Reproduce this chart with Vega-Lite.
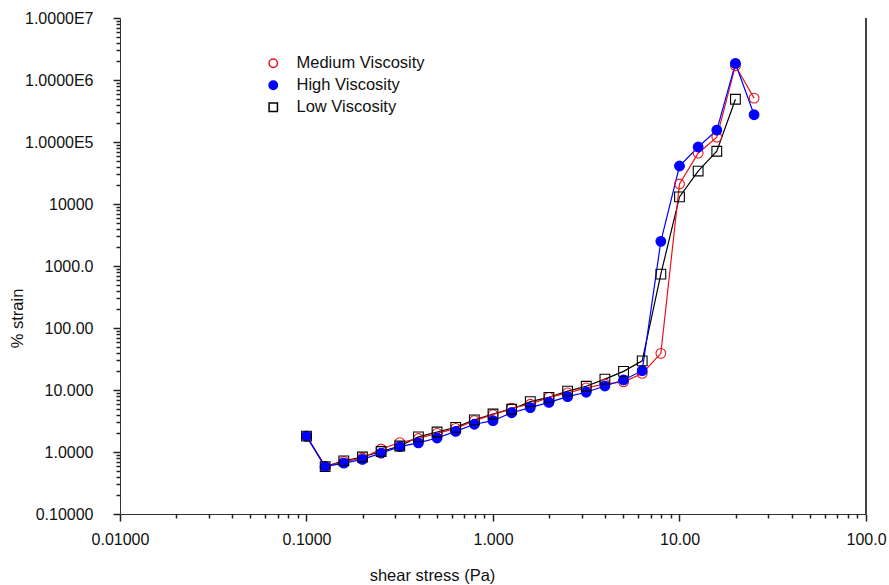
{
  "$schema": "https://vega.github.io/schema/vega-lite/v6.json",
  "width": 746,
  "height": 496,
  "autosize": "none",
  "padding": {"left": 120, "top": 18, "right": 23, "bottom": 71},
  "config": {"view": {"stroke": null}},
  "data": {"values": [
    {"series": "Medium Viscosity", "x": 0.1, "y": 1.8},
    {"series": "Medium Viscosity", "x": 0.1259, "y": 0.58},
    {"series": "Medium Viscosity", "x": 0.1585, "y": 0.7},
    {"series": "Medium Viscosity", "x": 0.1995, "y": 0.8},
    {"series": "Medium Viscosity", "x": 0.2512, "y": 1.12},
    {"series": "Medium Viscosity", "x": 0.3162, "y": 1.42},
    {"series": "Medium Viscosity", "x": 0.3981, "y": 1.65},
    {"series": "Medium Viscosity", "x": 0.5012, "y": 2.0},
    {"series": "Medium Viscosity", "x": 0.631, "y": 2.4},
    {"series": "Medium Viscosity", "x": 0.7943, "y": 3.2},
    {"series": "Medium Viscosity", "x": 1.0, "y": 4.0},
    {"series": "Medium Viscosity", "x": 1.259, "y": 5.1},
    {"series": "Medium Viscosity", "x": 1.585, "y": 5.9},
    {"series": "Medium Viscosity", "x": 1.995, "y": 7.6},
    {"series": "Medium Viscosity", "x": 2.512, "y": 9.0},
    {"series": "Medium Viscosity", "x": 3.162, "y": 10.8},
    {"series": "Medium Viscosity", "x": 3.981, "y": 12.5},
    {"series": "Medium Viscosity", "x": 5.012, "y": 13.5},
    {"series": "Medium Viscosity", "x": 6.31, "y": 18.5},
    {"series": "Medium Viscosity", "x": 7.943, "y": 39},
    {"series": "Medium Viscosity", "x": 10.0, "y": 21000},
    {"series": "Medium Viscosity", "x": 12.59, "y": 66000},
    {"series": "Medium Viscosity", "x": 15.85, "y": 120000},
    {"series": "Medium Viscosity", "x": 19.95, "y": 1700000},
    {"series": "Medium Viscosity", "x": 25.12, "y": 510000},
    {"series": "High Viscosity", "x": 0.1, "y": 1.8},
    {"series": "High Viscosity", "x": 0.1259, "y": 0.58},
    {"series": "High Viscosity", "x": 0.1585, "y": 0.66},
    {"series": "High Viscosity", "x": 0.1995, "y": 0.76},
    {"series": "High Viscosity", "x": 0.2512, "y": 0.96},
    {"series": "High Viscosity", "x": 0.3162, "y": 1.22},
    {"series": "High Viscosity", "x": 0.3981, "y": 1.4},
    {"series": "High Viscosity", "x": 0.5012, "y": 1.68},
    {"series": "High Viscosity", "x": 0.631, "y": 2.15},
    {"series": "High Viscosity", "x": 0.7943, "y": 2.8},
    {"series": "High Viscosity", "x": 1.0, "y": 3.2},
    {"series": "High Viscosity", "x": 1.259, "y": 4.3},
    {"series": "High Viscosity", "x": 1.585, "y": 5.2},
    {"series": "High Viscosity", "x": 1.995, "y": 6.3},
    {"series": "High Viscosity", "x": 2.512, "y": 7.8},
    {"series": "High Viscosity", "x": 3.162, "y": 9.2},
    {"series": "High Viscosity", "x": 3.981, "y": 11.6},
    {"series": "High Viscosity", "x": 5.012, "y": 14.5},
    {"series": "High Viscosity", "x": 6.31, "y": 20.5},
    {"series": "High Viscosity", "x": 7.943, "y": 2500},
    {"series": "High Viscosity", "x": 10.0, "y": 41000},
    {"series": "High Viscosity", "x": 12.59, "y": 83000},
    {"series": "High Viscosity", "x": 15.85, "y": 155000},
    {"series": "High Viscosity", "x": 19.95, "y": 1850000},
    {"series": "High Viscosity", "x": 25.12, "y": 275000},
    {"series": "Low Viscosity", "x": 0.1, "y": 1.8},
    {"series": "Low Viscosity", "x": 0.1259, "y": 0.58},
    {"series": "Low Viscosity", "x": 0.1585, "y": 0.72},
    {"series": "Low Viscosity", "x": 0.1995, "y": 0.83},
    {"series": "Low Viscosity", "x": 0.2512, "y": 1.02},
    {"series": "Low Viscosity", "x": 0.3162, "y": 1.25},
    {"series": "Low Viscosity", "x": 0.3981, "y": 1.75},
    {"series": "Low Viscosity", "x": 0.5012, "y": 2.1},
    {"series": "Low Viscosity", "x": 0.631, "y": 2.5},
    {"series": "Low Viscosity", "x": 0.7943, "y": 3.3},
    {"series": "Low Viscosity", "x": 1.0, "y": 4.1},
    {"series": "Low Viscosity", "x": 1.259, "y": 4.9},
    {"series": "Low Viscosity", "x": 1.585, "y": 6.5},
    {"series": "Low Viscosity", "x": 1.995, "y": 7.6},
    {"series": "Low Viscosity", "x": 2.512, "y": 9.6},
    {"series": "Low Viscosity", "x": 3.162, "y": 11.5},
    {"series": "Low Viscosity", "x": 3.981, "y": 15},
    {"series": "Low Viscosity", "x": 5.012, "y": 20},
    {"series": "Low Viscosity", "x": 6.31, "y": 29.5},
    {"series": "Low Viscosity", "x": 7.943, "y": 740},
    {"series": "Low Viscosity", "x": 10.0, "y": 13000},
    {"series": "Low Viscosity", "x": 12.59, "y": 34000},
    {"series": "Low Viscosity", "x": 15.85, "y": 71000},
    {"series": "Low Viscosity", "x": 19.95, "y": 490000}
  ]},
  "resolve": {"axis": {"x": "independent", "y": "independent"}},
  "layer": [
    {
      "mark": {"type": "rule", "color": "#444444", "strokeWidth": 1},
      "encoding": {"x": {"datum": 100, "type": "quantitative", "scale": {"type": "log", "domain": [0.01, 100], "nice": false}, "axis": null}}
    },
    {
      "transform": [{"filter": "datum.series === 'Low Viscosity'"}],
      "mark": {"type": "line", "strokeWidth": 1.2, "color": "#000000"},
      "encoding": {
        "x": {"field": "x", "type": "quantitative", "scale": {"type": "log", "domain": [0.01, 100], "nice": false},
          "axis": {
            "orient": "bottom", "grid": false,
            "title": "shear stress (Pa)", "titleFont": "Liberation Sans", "titleFontSize": 16.5, "titleFontWeight": "normal", "titleColor": "#111111",
            "titleX": 312, "titleY": 61, "titleBaseline": "middle", "titleAlign": "center",
            "values": [0.01, 0.1, 1, 10, 100],
            "domainColor": "#333333", "domainWidth": 1,
            "ticks": true, "tickSize": 7, "tickColor": "#222222", "tickWidth": 1.5,
            "labelFont": "Liberation Sans", "labelFontSize": 16, "labelColor": "#111111", "labelFlush": false, "labelOverlap": false,
            "labelPadding": 10,
            "labelExpr": "format(datum.value, '.4r')"
          }},
        "y": {"field": "y", "type": "quantitative", "scale": {"type": "log", "domain": [0.1, 10000000], "nice": false},
          "axis": {
            "orient": "left", "grid": false,
            "title": "% strain", "titleFont": "Liberation Sans", "titleFontSize": 16.5, "titleFontWeight": "normal", "titleColor": "#111111",
            "titleX": -103, "titleY": 300, "titleBaseline": "middle", "titleAlign": "center", "titleAngle": -90,
            "values": [0.1, 1, 10, 100, 1000, 10000, 100000, 1000000, 10000000],
            "domainColor": "#333333", "domainWidth": 1,
            "ticks": true, "tickSize": 7, "tickColor": "#222222", "tickWidth": 1.5,
            "labelFont": "Liberation Sans", "labelFontSize": 16, "labelColor": "#111111", "labelFlush": false, "labelOverlap": false,
            "labelPadding": 20,
            "labelExpr": "datum.value >= 99999 ? '1.0000E' + round(log(datum.value)/LN10) : format(datum.value, '.5r')"
          }},
        "order": {"field": "x", "type": "quantitative"}
      }
    },
    {
      "transform": [{"filter": "datum.series === 'Medium Viscosity'"}],
      "mark": {"type": "line", "strokeWidth": 1.2, "color": "#e8141c"},
      "encoding": {
        "x": {"field": "x", "type": "quantitative", "scale": {"type": "log", "domain": [0.01, 100], "nice": false}, "axis": null},
        "y": {"field": "y", "type": "quantitative", "scale": {"type": "log", "domain": [0.1, 10000000], "nice": false}, "axis": null},
        "order": {"field": "x", "type": "quantitative"}
      }
    },
    {
      "transform": [{"filter": "datum.series === 'High Viscosity'"}],
      "mark": {"type": "line", "strokeWidth": 1.2, "color": "#0000ff"},
      "encoding": {
        "x": {"field": "x", "type": "quantitative", "scale": {"type": "log", "domain": [0.01, 100], "nice": false}, "axis": null},
        "y": {"field": "y", "type": "quantitative", "scale": {"type": "log", "domain": [0.1, 10000000], "nice": false}, "axis": null},
        "order": {"field": "x", "type": "quantitative"}
      }
    },
    {
      "mark": {"type": "point", "size": 95, "strokeWidth": 1.1, "opacity": 1},
      "encoding": {
        "x": {"field": "x", "type": "quantitative", "scale": {"type": "log", "domain": [0.01, 100], "nice": false},
          "axis": {
            "orient": "bottom", "grid": false, "title": null, "labels": false, "domain": false, "ticks": true, "tickSize": 4, "tickColor": "#222222", "tickWidth": 1.5,
            "values": [0.02,0.03,0.04,0.05,0.06,0.07,0.08,0.09,0.2,0.3,0.4,0.5,0.6,0.7,0.8,0.9,2,3,4,5,6,7,8,9,20,30,40,50,60,70,80,90]
          }},
        "y": {"field": "y", "type": "quantitative", "scale": {"type": "log", "domain": [0.1, 10000000], "nice": false},
          "axis": {
            "orient": "left", "grid": false, "title": null, "labels": false, "domain": false, "ticks": true, "tickSize": 4, "tickColor": "#222222", "tickWidth": 1.5,
            "values": [0.2,0.3,0.4,0.5,0.6,0.7,0.8,0.9,2,3,4,5,6,7,8,9,20,30,40,50,60,70,80,90,200,300,400,500,600,700,800,900,2000,3000,4000,5000,6000,7000,8000,9000,20000,30000,40000,50000,60000,70000,80000,90000,200000,300000,400000,500000,600000,700000,800000,900000,2000000,3000000,4000000,5000000,6000000,7000000,8000000,9000000]
          }},
        "stroke": {"field": "series", "type": "nominal",
          "scale": {"domain": ["Medium Viscosity", "High Viscosity", "Low Viscosity"], "range": ["#e8141c", "#0000ff", "#000000"]},
          "legend": {"title": null, "orient": "none", "legendX": 145, "legendY": 37, "labelFontSize": 16.5, "labelFont": "Liberation Sans", "labelColor": "#111111", "rowPadding": 5, "symbolSize": 70, "padding": 0, "labelOffset": 15}},
        "fill": {"field": "series", "type": "nominal",
          "scale": {"domain": ["Medium Viscosity", "High Viscosity", "Low Viscosity"], "range": ["transparent", "#0000ff", "transparent"]},
          "legend": {"title": null, "orient": "none", "legendX": 145, "legendY": 37, "labelFontSize": 16.5, "labelFont": "Liberation Sans", "labelColor": "#111111", "rowPadding": 5, "symbolSize": 70, "padding": 0, "labelOffset": 15}},
        "shape": {"field": "series", "type": "nominal",
          "scale": {"domain": ["Medium Viscosity", "High Viscosity", "Low Viscosity"], "range": ["circle", "circle", "square"]},
          "legend": {"title": null, "orient": "none", "legendX": 145, "legendY": 37, "labelFontSize": 16.5, "labelFont": "Liberation Sans", "labelColor": "#111111", "rowPadding": 5, "symbolSize": 70, "padding": 0, "labelOffset": 15}}
      }
    }
  ]
}
